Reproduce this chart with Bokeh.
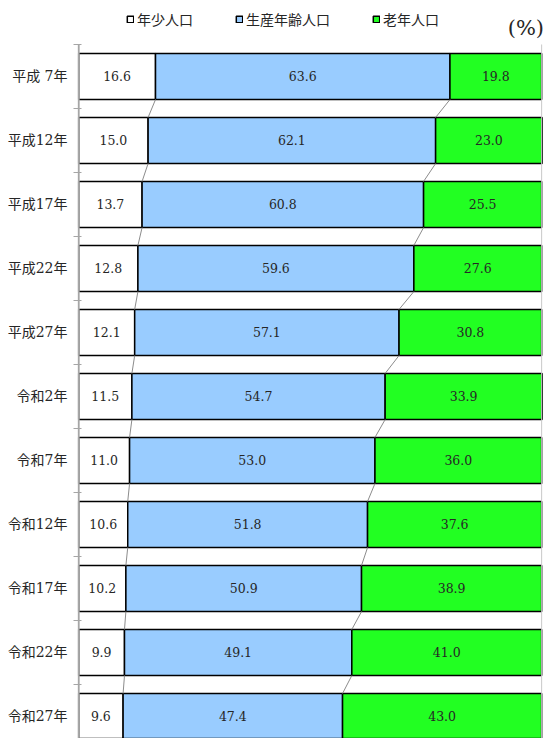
from bokeh.plotting import figure
from bokeh.models import (Range1d, FixedTicker, Legend, LegendItem, Label,
                          ColumnDataSource)
from bokeh.core.properties import value
from bokeh.embed import file_html
from bokeh.resources import INLINE

categories = ["平成 7年", "平成12年", "平成17年", "平成22年", "平成27年",
              "令和2年", "令和7年", "令和12年", "令和17年", "令和22年", "令和27年"]
young = [16.6, 15.0, 13.7, 12.8, 12.1, 11.5, 11.0, 10.6, 10.2, 9.9, 9.6]
working = [63.6, 62.1, 60.8, 59.6, 57.1, 54.7, 53.0, 51.8, 50.9, 49.1, 47.4]
old = [19.8, 23.0, 25.5, 27.6, 30.8, 33.9, 36.0, 37.6, 38.9, 41.0, 43.0]
series_names = ["年少人口", "生産年齢人口", "老年人口"]
colors = ["#FFFFFF", "#99CCFF", "#22FF22"]

n = len(categories)
ys = list(range(n))
c1 = young
c2 = [a + b for a, b in zip(young, working)]
c3 = [a + b for a, b in zip(c2, old)]
lefts = [[0.0] * n, c1, c2]
rights = [c1, c2, c3]
vals = [young, working, old]

BAR_H = 0.72
SERIF = "DejaVu Serif, Noto Sans CJK JP"
GRAY = "#a6a6a6"

p = figure(width=546, height=738, output_backend="svg", toolbar_location=None,
           x_range=Range1d(-0.25, 101.05), y_range=Range1d(10.3438, -1.1875),
           min_border_left=77, min_border_right=0, min_border_top=0,
           min_border_bottom=0)
p.outline_line_color = None
p.xaxis.visible = False
p.xgrid.visible = False
p.ygrid.visible = False

renderers = []
for k in range(3):
    src = ColumnDataSource(dict(y=ys, left=lefts[k], right=rights[k]))
    r = p.hbar(y="y", left="left", right="right", height=BAR_H, source=src,
               fill_color=colors[k], line_color="black", line_width=1.5)
    renderers.append(r)
    mids = [(a + b) / 2 for a, b in zip(lefts[k], rights[k])]
    txt = ["%.1f" % v for v in vals[k]]
    p.text(x=mids, y=ys, text=txt, text_align="center", text_baseline="middle",
           text_font=value("DejaVu Serif"), text_font_size="12.5px",
           text_color="#262626")

# series connector lines
for cum in (c1, c2):
    p.segment(x0=cum[:-1], y0=[y + BAR_H / 2 for y in ys[:-1]],
              x1=cum[1:], y1=[y + 1 - BAR_H / 2 for y in ys[:-1]],
              line_color="#8c8c8c", line_width=1)

# axis line and right border of the plot area
p.segment(x0=[0], y0=[-0.5], x1=[0], y1=[n + 1], line_color=GRAY, line_width=2)
p.segment(x0=[100], y0=[-0.5], x1=[100], y1=[n + 1], line_color="#c8c8c8",
          line_width=1)

ax = p.yaxis[0]
ax.ticker = FixedTicker(ticks=ys, minor_ticks=[y - 0.5 for y in range(n + 1)])
ax.major_label_overrides = {i: c for i, c in enumerate(categories)}
ax.major_tick_in = 0
ax.major_tick_out = 0
ax.minor_tick_in = 4
ax.minor_tick_out = 4
ax.minor_tick_line_color = GRAY
ax.axis_line_color = None
ax.major_label_standoff = 6
ax.major_label_text_font = SERIF
ax.major_label_text_font_size = "14px"
ax.major_label_text_color = "#262626"

legend = Legend(items=[LegendItem(label=series_names[k], renderers=[renderers[k]])
                       for k in range(3)],
                orientation="horizontal", location=(49, 709),
                glyph_width=8, glyph_height=8, label_standoff=3, spacing=42,
                padding=0, margin=0, label_height=14,
                label_text_font="Noto Sans CJK JP", label_text_font_size="14px",
                label_text_color="#262626", border_line_color=None,
                background_fill_alpha=0)
p.add_layout(legend, "center")

p.add_layout(Label(x=96.6, y=-0.75, text="(%)", text_align="center",
                   text_baseline="middle", text_font="DejaVu Serif",
                   text_font_size="21px", text_color="#262626"))

open("out.html", "w").write(file_html(p, INLINE))
